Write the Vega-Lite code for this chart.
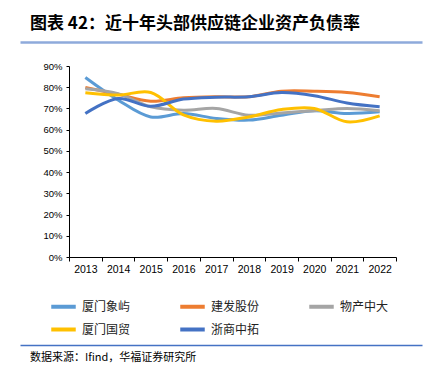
{
  "$schema": "https://vega.github.io/schema/vega-lite/v6.json",
  "padding": {"left": 30, "top": 15, "right": 4, "bottom": 4},
  "background": "white",
  "config": {"font": "Liberation Sans, Noto Sans CJK SC", "view": {"stroke": null}},
  "datasets": {
    "d": [
      {"company": "厦门象屿", "year": "2013", "value": 0.846},
      {"company": "厦门象屿", "year": "2014", "value": 0.74},
      {"company": "厦门象屿", "year": "2015", "value": 0.66},
      {"company": "厦门象屿", "year": "2016", "value": 0.676},
      {"company": "厦门象屿", "year": "2017", "value": 0.653},
      {"company": "厦门象屿", "year": "2018", "value": 0.645},
      {"company": "厦门象屿", "year": "2019", "value": 0.668},
      {"company": "厦门象屿", "year": "2020", "value": 0.689},
      {"company": "厦门象屿", "year": "2021", "value": 0.676},
      {"company": "厦门象屿", "year": "2022", "value": 0.684},
      {"company": "建发股份", "year": "2013", "value": 0.799},
      {"company": "建发股份", "year": "2014", "value": 0.767},
      {"company": "建发股份", "year": "2015", "value": 0.734},
      {"company": "建发股份", "year": "2016", "value": 0.75},
      {"company": "建发股份", "year": "2017", "value": 0.755},
      {"company": "建发股份", "year": "2018", "value": 0.755},
      {"company": "建发股份", "year": "2019", "value": 0.781},
      {"company": "建发股份", "year": "2020", "value": 0.781},
      {"company": "建发股份", "year": "2021", "value": 0.775},
      {"company": "建发股份", "year": "2022", "value": 0.755},
      {"company": "物产中大", "year": "2013", "value": 0.793},
      {"company": "物产中大", "year": "2014", "value": 0.77},
      {"company": "物产中大", "year": "2015", "value": 0.708},
      {"company": "物产中大", "year": "2016", "value": 0.692},
      {"company": "物产中大", "year": "2017", "value": 0.70},
      {"company": "物产中大", "year": "2018", "value": 0.668},
      {"company": "物产中大", "year": "2019", "value": 0.679},
      {"company": "物产中大", "year": "2020", "value": 0.689},
      {"company": "物产中大", "year": "2021", "value": 0.70},
      {"company": "物产中大", "year": "2022", "value": 0.689},
      {"company": "厦门国贸", "year": "2013", "value": 0.774},
      {"company": "厦门国贸", "year": "2014", "value": 0.763},
      {"company": "厦门国贸", "year": "2015", "value": 0.775},
      {"company": "厦门国贸", "year": "2016", "value": 0.67},
      {"company": "厦门国贸", "year": "2017", "value": 0.64},
      {"company": "厦门国贸", "year": "2018", "value": 0.66},
      {"company": "厦门国贸", "year": "2019", "value": 0.695},
      {"company": "厦门国贸", "year": "2020", "value": 0.70},
      {"company": "厦门国贸", "year": "2021", "value": 0.637},
      {"company": "厦门国贸", "year": "2022", "value": 0.665},
      {"company": "浙商中拓", "year": "2013", "value": 0.676},
      {"company": "浙商中拓", "year": "2014", "value": 0.747},
      {"company": "浙商中拓", "year": "2015", "value": 0.71},
      {"company": "浙商中拓", "year": "2016", "value": 0.744},
      {"company": "浙商中拓", "year": "2017", "value": 0.753},
      {"company": "浙商中拓", "year": "2018", "value": 0.755},
      {"company": "浙商中拓", "year": "2019", "value": 0.775},
      {"company": "浙商中拓", "year": "2020", "value": 0.76},
      {"company": "浙商中拓", "year": "2021", "value": 0.726},
      {"company": "浙商中拓", "year": "2022", "value": 0.708}
    ]
  },
  "spacing": 19,
  "vconcat": [
    {
      "width": 327,
      "height": 0,
      "data": {"name": "d"},
      "title": {"text": "图表 42：近十年头部供应链企业资产负债率", "anchor": "start", "dx": -39, "fontSize": 17, "fontWeight": "bold", "font": "Noto Sans CJK SC", "color": "#000", "offset": -11},
      "mark": {"type": "point", "opacity": 0},
      "encoding": {
        "x": {"field": "value", "type": "quantitative", "scale": {"domain": [0, 1], "range": [-49, 353], "nice": false}, "axis": {"labels": false, "ticks": false, "grid": false, "title": null, "domainColor": "#8eaadb", "domainWidth": 2.5}}
      }
    },
    {
      "width": 327,
      "height": 191,
      "data": {"name": "d"},
      "mark": {"type": "line", "interpolate": "catmull-rom", "strokeWidth": 3},
      "encoding": {
        "x": {
          "field": "year", "type": "ordinal",
          "scale": {"type": "band", "paddingInner": 0, "paddingOuter": 0},
          "bandPosition": 0.5,
          "axis": {"title": null, "labelAngle": 0, "tickBand": "extent", "labelFontSize": 10.5, "labelColor": "#000", "domainColor": "#000", "tickColor": "#000", "tickSize": 4, "labelPadding": 3}
        },
        "y": {
          "field": "value", "type": "quantitative",
          "scale": {"domain": [0, 0.9]},
          "axis": {"values": [0, 0.1, 0.2, 0.3, 0.4, 0.5, 0.6, 0.7, 0.8, 0.9], "format": ".0%", "grid": false, "title": null, "labelFontSize": 9.5, "labelColor": "#000", "domainColor": "#000", "tickColor": "#000", "tickSize": 3, "labelPadding": 4}
        },
        "color": {
          "field": "company", "type": "nominal",
          "scale": {"domain": ["厦门象屿", "建发股份", "物产中大", "厦门国贸", "浙商中拓"], "range": ["#5b9bd5", "#ed7d31", "#a5a5a5", "#ffc000", "#4472c4"]},
          "legend": {"title": null, "orient": "none", "legendX": -20, "legendY": 270, "direction": "horizontal", "columns": 3, "symbolType": "stroke", "symbolStrokeWidth": 4, "symbolSize": 600, "labelOffset": 4, "labelFontSize": 12, "labelFont": "Noto Sans CJK SC", "labelColor": "#222", "columnPadding": 41, "rowPadding": -12, "gridAlign": "all"}
        }
      }
    },
    {
      "width": 327,
      "height": 51,
      "data": {"name": "d"},
      "title": {"text": "数据来源：Ifind，华福证券研究所", "orient": "bottom", "anchor": "start", "dx": -39, "fontSize": 11, "fontWeight": "normal", "font": "Noto Sans CJK SC", "color": "#000", "offset": 7},
      "mark": {"type": "point", "opacity": 0},
      "encoding": {
        "x": {"field": "value", "type": "quantitative", "scale": {"domain": [0, 1], "range": [-49, 353], "nice": false}, "axis": {"labels": false, "ticks": false, "grid": false, "title": null, "domainColor": "#4472c4", "domainWidth": 1.5}},
        "color": {
          "field": "company", "type": "nominal",
          "scale": {"domain": ["厦门象屿", "建发股份", "物产中大", "厦门国贸", "浙商中拓"], "range": ["#5b9bd5", "#ed7d31", "#a5a5a5", "#ffc000", "#4472c4"]},
          "legend": {"title": null, "orient": "none", "legendX": -20, "legendY": 270, "direction": "horizontal", "columns": 3, "symbolType": "stroke", "symbolStrokeWidth": 4, "symbolSize": 600, "labelOffset": 4, "labelFontSize": 12, "labelFont": "Noto Sans CJK SC", "labelColor": "#222", "columnPadding": 41, "rowPadding": -12, "gridAlign": "all"}
        }
      }
    }
  ]
}
